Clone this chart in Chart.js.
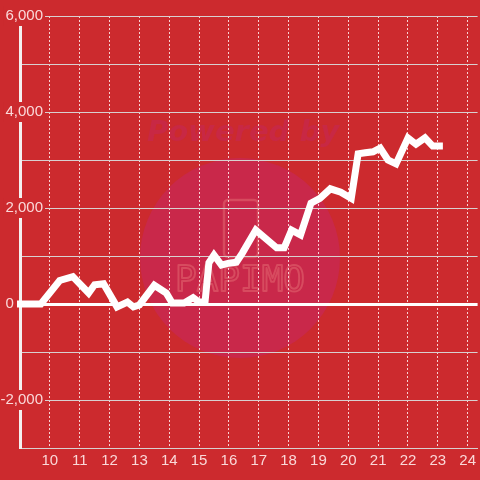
<!DOCTYPE html>
<html lang="en">
<head>
    <meta charset="UTF-8">
    <title>Line chart</title>
    <style>
        body {
            margin: 0;
            background-color: #cc2a2e;
        }
        .chart-container {
            position: relative;
            width: 480px;
            height: 480px;
        }
    </style>
</head>
<body>
    <div class="chart-container">
        <canvas id="lineChart"></canvas>
    </div>
    <script src="https://cdn.jsdelivr.net/npm/chart.js"></script>
    <script>
        const hours = [8.9, 9.7, 10.33, 10.77, 11.3, 11.5, 11.8, 12.25, 12.6, 12.8, 13.0, 13.5, 13.9, 14.1, 14.5, 14.8, 15.0, 15.2,
            15.33, 15.5, 15.75, 16.0, 16.25, 16.45, 16.9, 17.6, 17.85, 18.1, 18.4, 18.75, 19.05, 19.4, 19.75, 20.1,
            20.33, 20.57, 20.83, 21.07, 21.33, 21.6, 22.0, 22.27, 22.57, 22.83, 23.17];
        const values = [0, 0, 490, 570, 230, 400, 420, -60, 40, -60, -20, 390, 230, 20, 20, 130, 40, 40,
            860, 1020, 810, 850, 870, 1060, 1540, 1170, 1170, 1540, 1440, 2100, 2200, 2400, 2330, 2200,
            3130, 3150, 3170, 3250, 3000, 2920, 3460, 3330, 3460, 3290, 3290];
        const xTicks = [10, 11, 12, 13, 14, 15, 16, 17, 18, 19, 20, 21, 22, 23, 24];
        const yLabelTicks = [-2000, 0, 2000, 4000, 6000];

        const bgColor = '#cc2a2e';
        const labelColor = 'rgba(255, 235, 235, 0.9)';

        // faint "Powered by" badge behind the grid
        const watermark = {
            id: 'watermark',
            beforeDraw(chart) {
                const c = chart.ctx;
                c.save();
                c.fillStyle = bgColor;
                c.fillRect(0, 0, chart.width, chart.height);
                c.fillStyle = '#c9284a';
                c.beginPath();
                c.arc(240, 258, 100, 0, Math.PI * 2);
                c.fill();
                c.fillStyle = '#c82844';
                c.font = 'oblique bold 29px "DejaVu Sans", sans-serif';
                c.textAlign = 'center';
                c.textBaseline = 'middle';
                c.fillText('Powered by', 243, 133);
                c.strokeStyle = 'rgba(230, 110, 115, 0.5)';
                c.lineWidth = 2.5;
                c.lineJoin = 'round';
                c.beginPath();
                c.roundRect(224, 200, 34, 57, 4);
                c.stroke();
                c.font = '36px "DejaVu Sans Mono", monospace';
                c.lineWidth = 2;
                c.strokeText('PAPIMO', 240, 282);
                c.restore();
            }
        };

        const data = hours.map((h, i) => ({ x: h, y: values[i] }));

        new Chart(document.getElementById('lineChart'), {
            type: 'line',
            data: {
                datasets: [{
                    data: data,
                    borderColor: '#ffffff',
                    borderWidth: 7,
                    pointRadius: 0,
                    tension: 0,
                    fill: false,
                    clip: 4
                }]
            },
            options: {
                responsive: true,
                maintainAspectRatio: false,
                animation: false,
                layout: { padding: { top: 16, right: 0, left: 0, bottom: 0 } },
                plugins: {
                    legend: { display: false },
                    tooltip: { enabled: false }
                },
                scales: {
                    x: {
                        type: 'linear',
                        min: 9,
                        max: 24.333,
                        afterBuildTicks: scale => {
                            scale.ticks = xTicks.map(v => ({ value: v }));
                        },
                        afterFit: scale => { scale.height = 32; },
                        grid: {
                            color: 'rgba(255, 240, 240, 0.85)',
                            lineWidth: 1,
                            drawTicks: false
                        },
                        border: { display: true, color: '#d8d0d0', width: 1, dash: [2, 2] },
                        ticks: {
                            color: labelColor,
                            padding: 4,
                            font: { family: '"Liberation Sans", Arial, sans-serif', size: 15 }
                        }
                    },
                    y: {
                        min: -3000,
                        max: 6000,
                        afterBuildTicks: scale => {
                            const t = [];
                            for (let v = -3000; v <= 6000; v += 1000) t.push({ value: v });
                            scale.ticks = t;
                        },
                        afterFit: scale => {
                            scale.width = 20;
                            // labels overlap the plot, so don't clip them to the axis box
                            scale._computeLabelArea = () => undefined;
                        },
                        grid: {
                            color: ctx => ctx.tick && ctx.tick.value === 0 ? '#ffffff' : '#d8d0d0',
                            lineWidth: ctx => ctx.tick && ctx.tick.value === 0 ? 3 : 1,
                            drawTicks: false
                        },
                        border: { display: true, color: '#f4f0f0', width: 3 },
                        ticks: {
                            color: labelColor,
                            padding: -23,
                            font: { family: '"Liberation Sans", Arial, sans-serif', size: 15 },
                            callback: v => {
                                if (!yLabelTicks.includes(v)) return '';
                                // the zero label sits left of the axis
                                return v === 0 ? '0       ' : v.toLocaleString('en-US');
                            },
                            showLabelBackdrop: ctx => ctx.tick.value !== 0 && yLabelTicks.includes(ctx.tick.value),
                            backdropColor: bgColor,
                            backdropPadding: { x: 2, y: 1 }
                        }
                    }
                }
            },
            plugins: [watermark]
        });
    </script>
</body>
</html>
